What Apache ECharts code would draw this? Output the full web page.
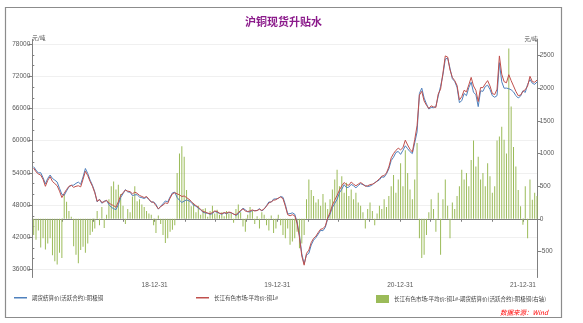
<!DOCTYPE html>
<html>
<head>
<meta charset="utf-8">
<script src="https://cdn.jsdelivr.net/npm/echarts@6/dist/echarts.min.js"></script>
<style>
html, body { margin: 0; padding: 0; background: #ffffff; }
#chart { width: 583px; height: 323px; }
</style>
</head>
<body>
<div id="chart"></div>
<script>
// Weekly observations, first one on Friday 2018-01-05
const firstWeek = [2018, 0, 5];

// 期货结算价(活跃合约):阴极铜 (元/吨)
const futuresPrice = [
  55150, 54520, 53980, 54040, 53100, 51970, 52980, 53600, 52960, 52650,
  52300, 51120, 50000, 49820, 50640, 51380, 51670, 51720, 52050, 52280,
  51880, 53230, 54820, 53880, 52650, 51700, 50450, 48580, 49100, 48320,
  48740, 48840, 48100, 47600, 47330, 47150, 48080, 49420, 50100, 50880,
  50450, 50400, 49760, 49900, 49930, 49500, 49380, 49220, 49480, 49020,
  48540, 48600, 48120, 47250, 47780, 48250, 48770, 48600, 49500, 50270,
  50400, 49400, 48900, 48490, 48750, 48960, 48800, 48510, 47960, 47800,
  47400, 47140, 46650, 46540, 46470, 46280, 46400, 46820, 46660, 46440,
  46300, 46560, 46380, 46620, 46520, 46360, 46050, 46380, 46900, 47420,
  47100, 46740, 46720, 46980, 46980, 46960, 47350, 46900, 47240, 47900,
  48580, 48550, 49120, 49150, 49240, 49600, 49450, 48100, 46350, 46400,
  46550, 46300, 44800, 42450, 38880, 37050, 38700, 39000, 40560, 41450,
  41950, 42600, 43300, 43220, 43850, 45450, 46300, 47550, 48300, 49050,
  50300, 50950, 51800, 51250, 51350, 51850, 51600, 51200, 51650, 52000,
  51800, 51650, 51450, 51550, 51780, 52200, 52420, 52700, 53250, 53200,
  53820, 54750, 56300, 56930, 57800, 58000, 57450, 58200, 59050, 58500,
  57950, 57600, 59600, 61640, 68800, 69800, 67950, 66850, 65900, 66200,
  66150, 66400, 68300, 70150, 72300, 75200, 75400, 73500, 71550, 71050,
  69950, 67100, 67450, 68800, 68400, 69900, 70900, 69000, 68600, 66350,
  69300, 69200, 70100, 70350, 69550, 68400, 68100, 68400, 74540, 70990,
  69790, 69800, 69690, 69480, 69100, 68400, 67960, 68310, 69290, 69000,
  70500, 71400, 70710, 70500, 70950
];

// 长江有色市场:平均价:铜1# (元/吨)
const spotPrice = [
  54900, 54200, 53800, 53600, 52800, 51500, 52600, 53300, 52400, 52000,
  51600, 50600, 49400, 50200, 50900, 51500, 51700, 51300, 51500, 51600,
  51400, 52800, 54300, 53500, 52400, 51500, 50300, 48700, 49000, 48500,
  48600, 48900, 48400, 48100, 47900, 47600, 48600, 49800, 50300, 50800,
  50600, 50500, 50100, 50400, 50200, 49800, 49600, 49400, 49600, 49100,
  48600, 48500, 47900, 47300, 47700, 48000, 48400, 48300, 49300, 50100,
  50300, 50100, 49900, 49600, 49700, 49400, 49100, 48700, 48200, 47900,
  47600, 47200, 46800, 46700, 46500, 46400, 46600, 46900, 46800, 46500,
  46400, 46600, 46500, 46700, 46600, 46300, 46200, 46600, 47000, 47300,
  46900, 46800, 46900, 47100, 46900, 47000, 47200, 47000, 47300, 47800,
  48400, 48600, 48900, 49000, 49300, 49500, 49200, 47800, 46200, 46000,
  46200, 46000, 44600, 42000, 38500, 36800, 39000, 39600, 41000, 41800,
  42200, 42900, 43500, 43600, 44100, 45600, 46600, 48000, 48900, 49800,
  50800, 51600, 52200, 51800, 51700, 52300, 51900, 51600, 51900, 52200,
  51900, 51500, 51600, 51800, 51900, 52100, 52500, 52900, 53400, 53500,
  54000, 55100, 56800, 57600, 58200, 58600, 58300, 58700, 60100, 59200,
  58400, 57900, 60200, 62800, 68500, 69200, 67400, 66600, 66000, 66500,
  66300, 66200, 68700, 69600, 72600, 75800, 75600, 73200, 71800, 71200,
  70300, 67600, 68200, 69400, 69100, 70400, 71800, 70200, 69400, 67300,
  69900, 69900, 70600, 71200, 70200, 68800, 68600, 69600, 75800, 72400,
  71000, 70800, 72300, 71200, 70200, 69200, 68400, 68500, 69200, 69500,
  70200, 72000, 71000, 70900, 71300
];

// 长江有色市场:平均价:铜1#-期货结算价(活跃合约):阴极铜 (元/吨, 右轴)
const basisSpread = [
  -250, -320, -180, -440, -300, -470, -380, -300, -560, -650,
  -700, -520, -600, 380, 260, 120, 30, -420, -550, -680,
  -480, -430, -520, -380, -250, -200, -150, 120, -100, 180,
  -140, 60, 300, 500, 570, 450, 520, 380, 200, -80,
  150, 100, 340, 500, 270, 300, 220, 180, 120, 80,
  60, -100, -220, 50, -80, -250, -370, -300, -200, -170,
  -100, 700, 1000, 1110, 950, 440, 300, 190, 240, 100,
  200, 60, 150, 160, 30, 120, 200, 80, 140, 60,
  100, 40, 120, 80, 80, -60, 150, 220, 100, -120,
  -200, 60, 180, 120, -80, 40, -150, 100, 60, -100,
  -180, 50, -220, -150, 60, -100, -250, -300, -150, -400,
  -350, -300, -200, -450, -380, -250, 300, 600, 440, 350,
  250, 300, 200, 380, 250, 150, 300, 450, 600, 750,
  500, 650, 400, 550, 350, 450, 300, 400, 250, 200,
  100, -150, 150, 250, 120, -100, 80, 200, 150, 300,
  180, 350, 500, 670, 400, 600, 850, 500, 1050, 700,
  450, 300, 600, 1160, -300, -600, -550, -250, 100, 300,
  150, -200, 400, -550, 300, 600, 200, -300, 250, 150,
  350, 500, 750, 600, 700, 500, 900, 1200, 800, 950,
  600, 700, 500, 850, 650, 400, 500, 1200, 1260, 1410,
  1210, 1000, 2610, 1720, 1100, 800, 440, 190, -90, 500,
  -300, 600, 290, 400, 350
];

// Axis ticks and labels
const quarterEnds = [
  '2018-03-31', '2018-06-30', '2018-09-30', '2018-12-31',
  '2019-03-31', '2019-06-30', '2019-09-30', '2019-12-31',
  '2020-03-31', '2020-06-30', '2020-09-30', '2020-12-31',
  '2021-03-31', '2021-06-30', '2021-09-30', '2021-12-31'
];
const yearEnds = ['2018-12-31', '2019-12-31', '2020-12-31', '2021-12-31'];
const leftTicks = [36000, 42000, 48000, 54000, 60000, 66000, 72000, 78000];
const leftMinorTicks = [38000, 40000, 44000, 46000, 50000, 52000, 56000, 58000, 62000, 64000, 68000, 70000, 74000, 76000];
const rightTicks = [-500, 0, 500, 1000, 1500, 2000, 2500];

const seriesNames = [
  '期货结算价(活跃合约):阴极铜',
  '长江有色市场:平均价:铜1#',
  '长江有色市场:平均价:铜1#-期货结算价(活跃合约):阴极铜(右轴)'
];

function dayValue(s) {
  const p = s.split('-').map(Number);
  return new Date(p[0], p[1] - 1, p[2]).getTime();
}
const weekDates = futuresPrice.map((_, i) =>
  new Date(firstWeek[0], firstWeek[1], firstWeek[2] + 7 * i).getTime());
const pair = (arr) => arr.map((v, i) => [weekDates[i], v]);

function fmtDate(v) {
  const d = new Date(v);
  const yy = String(d.getFullYear()).slice(2);
  const mm = String(d.getMonth() + 1).padStart(2, '0');
  const dd = String(d.getDate()).padStart(2, '0');
  return yy + '-' + mm + '-' + dd;
}

const txt = '#404040';
const axisGray = '#808080';
const smallFont = 'Liberation Sans, Arial, sans-serif';
const cjkFont = 'Noto Sans CJK SC, sans-serif';
const legendText = { fontSize: 5.5, color: txt, fontFamily: cjkFont };

const chart = echarts.init(document.getElementById('chart'), null, { renderer: 'canvas' });

chart.setOption({
  animation: false,
  backgroundColor: '#ffffff',
  graphic: [
    {
      type: 'rect', silent: true, z: -10,
      shape: { x: 5.5, y: 7.5, width: 556, height: 310 },
      style: { fill: 'none', stroke: '#8c8c8c', lineWidth: 1.2 }
    },
    {
      type: 'text', x: 283.5, y: 22,
      style: {
        text: '沪铜现货升贴水', fill: '#8b1a8b',
        font: 'bold 11px ' + cjkFont, align: 'center', verticalAlign: 'middle'
      }
    },
    {
      type: 'text', x: 548, y: 313,
      style: {
        text: '数据来源：Wind', fill: '#ff0000',
        font: 'italic 6.5px ' + cjkFont, align: 'right', verticalAlign: 'middle'
      }
    }
  ],
  grid: { left: 32.3, right: 45.3, top: 39.3, bottom: 45.5, containLabel: false },
  legend: [
    {
      data: [{ name: seriesNames[0], icon: 'rect' }],
      left: 14, top: 295, padding: 0, itemWidth: 13, itemHeight: 1.5, itemGap: 0,
      textStyle: legendText
    },
    {
      data: [{ name: seriesNames[1], icon: 'rect' }],
      left: 196, top: 295, padding: 0, itemWidth: 13, itemHeight: 1.5, itemGap: 0,
      textStyle: legendText
    },
    {
      data: [{ name: seriesNames[2], icon: 'rect' }],
      left: 376, top: 295, padding: 0, itemWidth: 13, itemHeight: 8, itemGap: 0,
      textStyle: legendText
    }
  ],
  xAxis: {
    type: 'value',
    min: dayValue('2018-01-01'),
    max: dayValue('2022-02-13'),
    axisLine: { lineStyle: { color: axisGray, width: 1 } },
    axisTick: { show: true, length: 3, lineStyle: { color: axisGray }, customValues: quarterEnds.map(dayValue) },
    axisLabel: {
      customValues: yearEnds.map(dayValue),
      formatter: (v) => fmtDate(v),
      fontSize: 6.5, color: '#595959', fontFamily: smallFont, margin: 4
    },
    splitLine: { show: false }
  },
  yAxis: [
    {
      type: 'value', position: 'left', min: 34500, max: 78900,
      name: '元/吨', nameLocation: 'end', nameGap: 0,
      nameTextStyle: { fontSize: 5.5, color: txt, fontFamily: cjkFont, align: 'left', verticalAlign: 'bottom', padding: [0, 0, -2, 0] },
      axisLine: { show: true, lineStyle: { color: axisGray, width: 1 } },
      axisTick: { show: true, length: 4, lineStyle: { color: axisGray }, customValues: leftTicks },
      axisLabel: { customValues: leftTicks, formatter: (v) => String(v), fontSize: 6.5, color: '#595959', fontFamily: smallFont, margin: 2 },
      splitLine: { show: true, lineStyle: { color: '#f0f0f0', width: 1 } }
    },
    {
      type: 'value', position: 'right', min: -900, max: 2750,
      name: '元/吨', nameLocation: 'end', nameGap: 0,
      nameTextStyle: { fontSize: 5.5, color: txt, fontFamily: cjkFont, align: 'right', verticalAlign: 'bottom', padding: [0, 0, -2, 0] },
      axisLine: { show: true, lineStyle: { color: axisGray, width: 1 } },
      axisTick: { show: true, length: 3, lineStyle: { color: axisGray }, customValues: rightTicks },
      axisLabel: { customValues: rightTicks, formatter: (v) => String(v), fontSize: 6.5, color: '#595959', fontFamily: smallFont, margin: 2 },
      splitLine: { show: false }
    },
    {
      // minor ticks on the left price axis
      type: 'value', position: 'left', min: 34500, max: 78900,
      axisLine: { show: false },
      axisTick: { show: true, inside: true, length: 2, lineStyle: { color: axisGray }, customValues: leftMinorTicks },
      axisLabel: { show: false },
      splitLine: { show: false }
    }
  ],
  series: [
    {
      name: seriesNames[2], type: 'bar', yAxisIndex: 1,
      data: pair(basisSpread),
      barWidth: 1,
      itemStyle: { color: '#9bbb59' },
      z: 1
    },
    {
      name: seriesNames[0], type: 'line', yAxisIndex: 0,
      data: pair(futuresPrice),
      showSymbol: false, symbol: 'none',
      lineStyle: { color: '#4f81bd', width: 1 },
      itemStyle: { color: '#4f81bd' },
      z: 2
    },
    {
      name: seriesNames[1], type: 'line', yAxisIndex: 0,
      data: pair(spotPrice),
      showSymbol: false, symbol: 'none',
      lineStyle: { color: '#c0504d', width: 1 },
      itemStyle: { color: '#c0504d' },
      z: 3
    }
  ]
});
</script>
</body>
</html>
